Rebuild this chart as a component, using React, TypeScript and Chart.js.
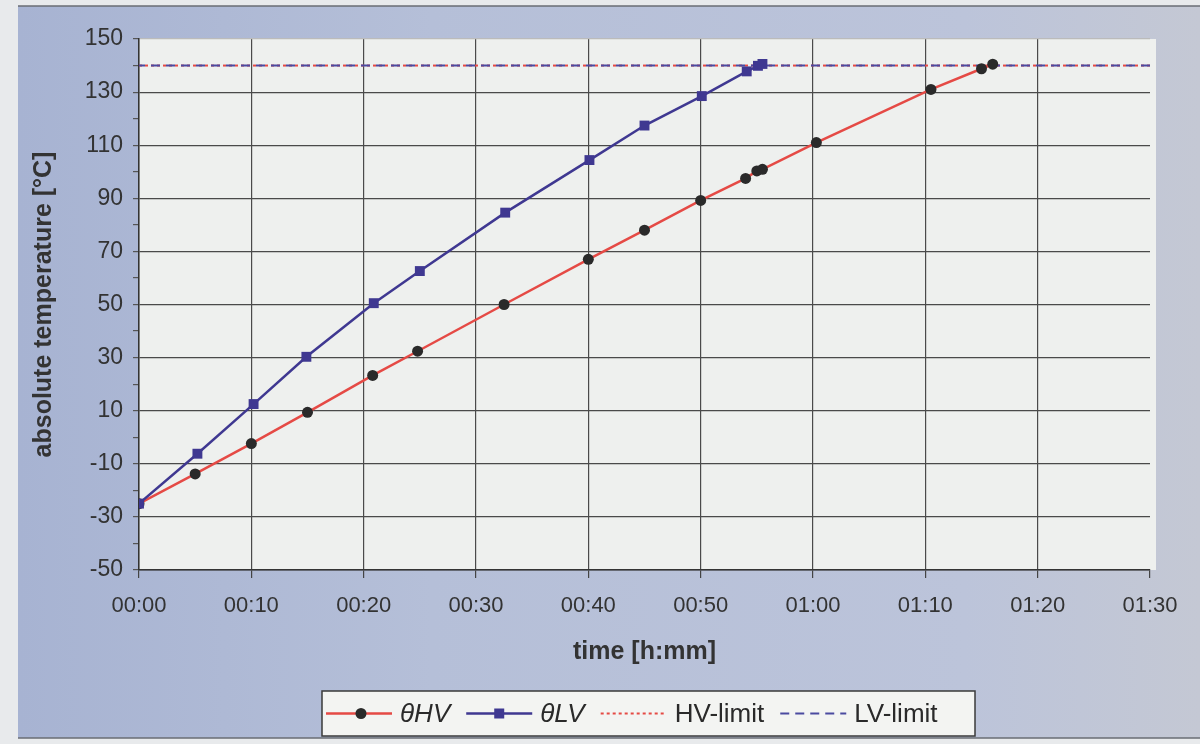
import React, { useEffect, useRef } from "react";
import { Chart, registerables } from "chart.js";

Chart.register(...registerables);

// time in minutes, temperatures in °C
const minutesHV = [0, 5, 10, 15, 20.8, 24.8, 32.5, 40, 45, 50, 54, 55, 55.5, 60.3, 70.5, 75, 76];
const tempHV = [-25, -13.8, -2.4, 9.4, 23.3, 32.4, 50, 67, 78, 89.2, 97.5, 100.3, 100.9, 111, 131, 138.8, 140.5];

const minutesLV = [0, 5.2, 10.2, 14.9, 20.9, 25, 32.6, 40.1, 45, 50.1, 54.1, 55.1, 55.5];
const tempLV = [-25, -6.2, 12.5, 30.3, 50.5, 62.6, 84.6, 104.4, 117.4, 128.5, 137.8, 139.9, 140.6];

const limitMinutes = [0, 90];
const hvLimit = [140, 140];
const lvLimit = [140, 140];

const legendLabels = ["\u03B8HV", "\u03B8LV", "HV-limit", "LV-limit"];
const legendItalic = [true, true, false, false];

const FONT = "'Liberation Sans', Arial, sans-serif";
const RED = "#e54a45";
const BLUE = "#3f3891";
const DOT = "#2a2a2a";

const fmtTime = (v: number) => {
  const h = Math.floor(v / 60);
  const m = Math.round(v - h * 60);
  return String(h).padStart(2, "0") + ":" + String(m).padStart(2, "0");
};

const toPts = (xs: number[], ys: number[]) => xs.map((x, i) => ({ x, y: ys[i] }));

const bgPlugin = {
  id: "scanBg",
  beforeDraw(chart: any) {
    const { ctx, width, height, chartArea } = chart;
    ctx.save();
    ctx.fillStyle = "#e8eaec";
    ctx.fillRect(0, 0, width, height);
    const g = ctx.createLinearGradient(18, 0, width, 0);
    g.addColorStop(0, "#a7b3d2");
    g.addColorStop(0.35, "#b5bfd8");
    g.addColorStop(0.8, "#bcc4da");
    g.addColorStop(1, "#c4c8d4");
    ctx.fillStyle = g;
    ctx.fillRect(18, 6, width - 18, height - 12);
    ctx.strokeStyle = "#6a6d74";
    ctx.lineWidth = 1.5;
    ctx.beginPath();
    ctx.moveTo(18, 6);
    ctx.lineTo(width, 6);
    ctx.moveTo(18, height - 6);
    ctx.lineTo(width, height - 6);
    ctx.stroke();
    ctx.fillStyle = "#eef0ee";
    ctx.fillRect(chartArea.left, chartArea.top, chartArea.right - chartArea.left + 6, chartArea.bottom - chartArea.top);
    ctx.restore();
  },
};

const legendPlugin = {
  id: "boxLegend",
  afterDraw(chart: any) {
    const { ctx } = chart;
    const ds = chart.data.datasets;
    const boxL = 322, boxT = 691, boxR = 975, boxB = 736;
    const cy = (boxT + boxB) / 2;
    ctx.save();
    ctx.fillStyle = "#f3f4f2";
    ctx.fillRect(boxL, boxT, boxR - boxL, boxB - boxT);
    ctx.strokeStyle = "#3a3a3a";
    ctx.lineWidth = 1.5;
    ctx.strokeRect(boxL, boxT, boxR - boxL, boxB - boxT);
    let x = boxL + 4;
    const sampleW = 66;
    [0, 1, 2, 3].forEach((di, i) => {
      const d = ds[di];
      ctx.save();
      ctx.strokeStyle = d.borderColor;
      ctx.lineWidth = d.borderWidth;
      ctx.setLineDash(d.borderDash || []);
      ctx.beginPath();
      ctx.moveTo(x, cy);
      ctx.lineTo(x + sampleW, cy);
      ctx.stroke();
      ctx.restore();
      if (d.pointRadius > 0) {
        ctx.fillStyle = d.pointBackgroundColor;
        if (d.pointStyle === "rect") {
          ctx.fillRect(x + sampleW / 2 - 5, cy - 5, 10, 10);
        } else {
          ctx.beginPath();
          ctx.arc(x + sampleW / 2 + 2, cy, 5.5, 0, Math.PI * 2);
          ctx.fill();
        }
      }
      x += sampleW + 8;
      ctx.font = (legendItalic[i] ? "italic " : "") + "26px " + FONT;
      ctx.fillStyle = "#2a2a2a";
      ctx.textBaseline = "middle";
      ctx.textAlign = "left";
      const label = legendLabels[i];
      ctx.fillText(label, x, cy + 1);
      x += ctx.measureText(label).width + 16;
    });
    ctx.restore();
  },
};

export default function App() {
  const ref = useRef<HTMLCanvasElement | null>(null);
  useEffect(() => {
    if (!ref.current) return;
    const chart = new Chart(ref.current, {
      type: "line",
      data: {
        datasets: [
          {
            label: legendLabels[0],
            data: toPts(minutesHV, tempHV),
            borderColor: RED,
            borderWidth: 2.5,
            pointStyle: "circle",
            pointRadius: 5.5,
            pointBackgroundColor: DOT,
            pointBorderColor: DOT,
            pointBorderWidth: 0,
            tension: 0,
            order: 2,
          },
          {
            label: legendLabels[1],
            data: toPts(minutesLV, tempLV),
            borderColor: BLUE,
            borderWidth: 2.5,
            pointStyle: "rect",
            pointRadius: 7,
            pointBackgroundColor: BLUE,
            pointBorderColor: BLUE,
            pointBorderWidth: 0,
            tension: 0,
            order: 1,
          },
          {
            label: legendLabels[2],
            data: toPts(limitMinutes, hvLimit),
            borderColor: RED,
            borderWidth: 2,
            borderDash: [3, 3],
            pointRadius: 0,
            order: 4,
          },
          {
            label: legendLabels[3],
            data: toPts(limitMinutes, lvLimit),
            borderColor: "#4b4aa0",
            borderWidth: 2,
            borderDash: [9, 6],
            borderDashOffset: 3,
            pointRadius: 0,
            order: 3,
          },
        ],
      } as any,
      options: {
        responsive: false,
        animation: false,
        events: [],
        layout: { padding: { left: 20, right: 50, top: 39, bottom: 66 } },
        plugins: {
          legend: { display: false },
          tooltip: { enabled: false },
        },
        scales: {
          x: {
            type: "linear",
            min: 0,
            max: 90,
            afterFit: (s: any) => {
              s.height = 108;
            },
            ticks: {
              stepSize: 10,
              padding: 15,
              color: "#333",
              font: { family: FONT, size: 22 },
              callback: (v: any) => fmtTime(Number(v)),
              maxRotation: 0,
              autoSkip: false,
            },
            grid: {
              color: (c: any) => (c.tick && c.tick.value === 90 ? "rgba(0,0,0,0)" : "#4a4a4a"),
              tickColor: "#444",
              tickLength: 8,
              lineWidth: 1.2,
            },
            border: { color: "#333", width: 1.5 },
            title: {
              display: true,
              text: "time [h:mm]",
              color: "#333",
              font: { family: FONT, size: 25, weight: "bold" },
              padding: { top: 0, bottom: 11 },
            },
          },
          y: {
            min: -50,
            max: 150,
            afterFit: (s: any) => {
              s.width = 119;
            },
            ticks: {
              stepSize: 10,
              padding: 10,
              color: "#333",
              font: { family: FONT, size: 23 },
              autoSkip: false,
              callback: (v: any) => ((Number(v) + 50) % 20 === 0 ? String(v) : ""),
            },
            grid: {
              color: (c: any) => {
                const v = c.tick ? c.tick.value : 0;
                if ((v + 50) % 20 !== 0) return "rgba(0,0,0,0)";
                if (v === 150) return "#bbb";
                return "#4a4a4a";
              },
              tickColor: "#555",
              tickLength: 6,
              lineWidth: 1.2,
            },
            border: { color: "#333", width: 1.5 },
            title: {
              display: true,
              text: "absolute temperature [\u00B0C]",
              color: "#333",
              font: { family: FONT, size: 25, weight: "bold" },
              padding: { top: 9, bottom: 0 },
            },
          },
        },
      } as any,
      plugins: [bgPlugin, legendPlugin],
    });
    return () => chart.destroy();
  }, []);
  return (
    <div style={{ position: "absolute", left: 0, top: 0, width: 1200, height: 744 }}>
      <canvas ref={ref} width={1200} height={744} style={{ display: "block", width: 1200, height: 744 }} />
    </div>
  );
}
